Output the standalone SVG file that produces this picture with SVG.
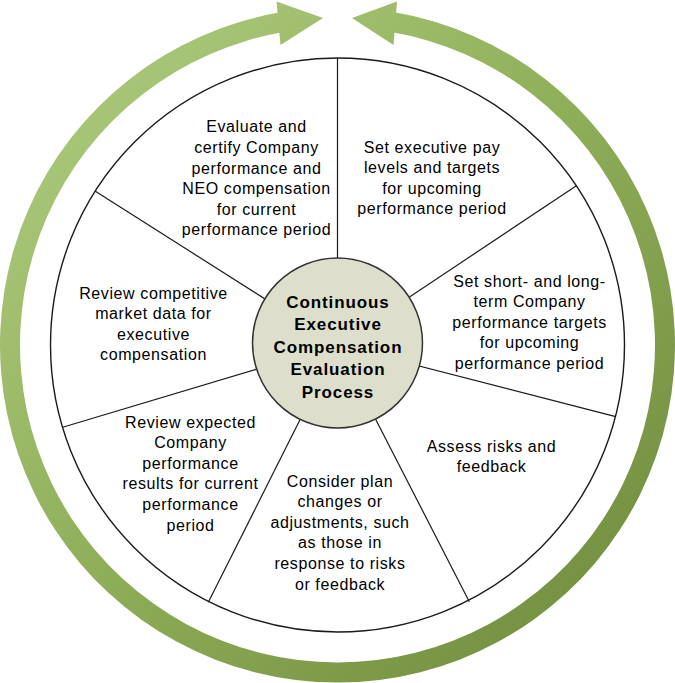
<svg xmlns="http://www.w3.org/2000/svg" width="675" height="683" viewBox="0 0 675 683">
  <style>
    .lbl { font-family: "Liberation Sans", Arial, sans-serif; font-size: 16px; letter-spacing: 0.6px; fill: #000; text-anchor: middle; }
    .ctr { font-family: "Liberation Sans", Arial, sans-serif; font-size: 17px; font-weight: bold; letter-spacing: 0.9px; fill: #000; text-anchor: middle; }
    .spoke { stroke: #1a1a1a; stroke-width: 1.2; fill: none; }
  </style>
  <defs>
    <linearGradient id="ring" gradientUnits="userSpaceOnUse" x1="0" y1="0" x2="675" y2="683">
      <stop offset="0" stop-color="#B2CF84"/>
      <stop offset="0.5" stop-color="#8FAE58"/>
      <stop offset="1" stop-color="#6C873B"/>
    </linearGradient>
  </defs>
  <rect width="675" height="683" fill="#ffffff"/>

  <g id="cycle-arrows" fill="url(#ring)">
    <path d="M 281.8 12.1 A 337.5 337.5 0 1 0 393.2 12.1 L 389.9 31.8 A 317.5 317.5 0 1 1 285.1 31.8 Z"/>
    <polygon points="276.5,1.5 323,18 280.5,45"/>
    <polygon points="397,1.5 352,18 393.5,45"/>
  </g>

  <g id="wheel">
    <circle cx="337.5" cy="345" r="287" fill="#ffffff" stroke="#1a1a1a" stroke-width="1.4"/>
  </g>

  <g id="connectors">
    <line class="spoke" x1="337.5" y1="345" x2="337.5" y2="58"/>
    <line class="spoke" x1="337.5" y1="345" x2="576" y2="186"/>
    <line class="spoke" x1="337.5" y1="345" x2="615.7" y2="416.7"/>
    <line class="spoke" x1="337.5" y1="345" x2="469.3" y2="601.7"/>
    <line class="spoke" x1="337.5" y1="345" x2="208.3" y2="602.3"/>
    <line class="spoke" x1="337.5" y1="345" x2="62.7" y2="427.3"/>
    <line class="spoke" x1="337.5" y1="345" x2="95" y2="191"/>
  </g>

  <g id="center">
    <circle cx="337.5" cy="343" r="85" fill="#DDDFCC" stroke="#333333" stroke-width="1.5"/>
    <text class="ctr" x="338" y="307.7">Continuous</text>
    <text class="ctr" x="338" y="330.2">Executive</text>
    <text class="ctr" x="338" y="352.7">Compensation</text>
    <text class="ctr" x="338" y="375.2">Evaluation</text>
    <text class="ctr" x="338" y="397.7">Process</text>
  </g>

  <g id="step-evaluate">
    <text class="lbl" x="256.5" y="132.3">Evaluate and</text>
    <text class="lbl" x="256.5" y="152.9">certify Company</text>
    <text class="lbl" x="256.5" y="173.5">performance and</text>
    <text class="lbl" x="256.5" y="194.1">NEO compensation</text>
    <text class="lbl" x="256.5" y="214.7">for current</text>
    <text class="lbl" x="256.5" y="235.3">performance period</text>
  </g>

  <g id="step-set-pay">
    <text class="lbl" x="432" y="152.5">Set executive pay</text>
    <text class="lbl" x="432" y="173.1">levels and targets</text>
    <text class="lbl" x="432" y="193.7">for upcoming</text>
    <text class="lbl" x="432" y="214.3">performance period</text>
  </g>

  <g id="step-targets">
    <text class="lbl" x="529.5" y="286.5">Set short- and long-</text>
    <text class="lbl" x="529.5" y="307.1">term Company</text>
    <text class="lbl" x="529.5" y="327.7">performance targets</text>
    <text class="lbl" x="529.5" y="348.3">for upcoming</text>
    <text class="lbl" x="529.5" y="368.9">performance period</text>
  </g>

  <g id="step-risks">
    <text class="lbl" x="491.5" y="451.5">Assess risks and</text>
    <text class="lbl" x="491.5" y="472.1">feedback</text>
  </g>

  <g id="step-changes">
    <text class="lbl" x="340" y="486.5">Consider plan</text>
    <text class="lbl" x="340" y="507.1">changes or</text>
    <text class="lbl" x="340" y="527.7">adjustments, such</text>
    <text class="lbl" x="340" y="548.3">as those in</text>
    <text class="lbl" x="340" y="568.9">response to risks</text>
    <text class="lbl" x="340" y="589.5">or feedback</text>
  </g>

  <g id="step-review-results">
    <text class="lbl" x="190.5" y="427.5">Review expected</text>
    <text class="lbl" x="190.5" y="448.1">Company</text>
    <text class="lbl" x="190.5" y="468.7">performance</text>
    <text class="lbl" x="190.5" y="489.3">results for current</text>
    <text class="lbl" x="190.5" y="509.9">performance</text>
    <text class="lbl" x="190.5" y="530.5">period</text>
  </g>

  <g id="step-market">
    <text class="lbl" x="153.5" y="298.5">Review competitive</text>
    <text class="lbl" x="153.5" y="319.1">market data for</text>
    <text class="lbl" x="153.5" y="339.7">executive</text>
    <text class="lbl" x="153.5" y="360.3">compensation</text>
  </g>
</svg>
